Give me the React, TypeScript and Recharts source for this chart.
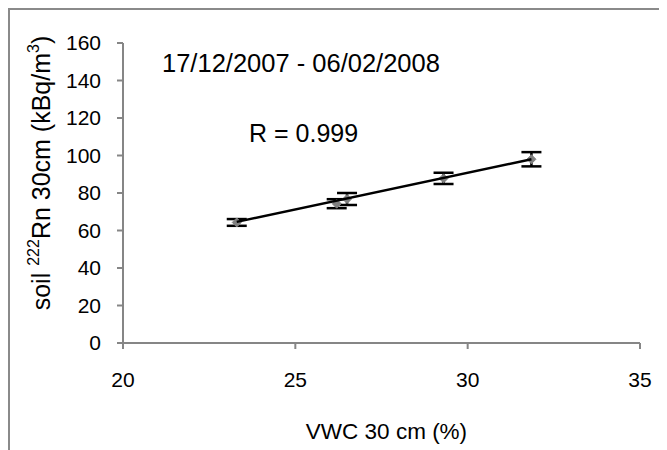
import React from 'react';
import { ScatterChart, Scatter, XAxis, YAxis, ErrorBar, Label } from 'recharts';

const vwc = [23.3, 26.2, 26.5, 29.3, 31.85];
const radon = [64.3, 74.3, 76.8, 87.8, 98.0];
const radonErr = [1.8, 2.4, 3.2, 3.0, 3.8];
const trendX = [23.3, 31.85];
const trendY = [64.6, 98.0];
const xTicks = [20, 25, 30, 35];
const yTicks = [0, 20, 40, 60, 80, 100, 120, 140, 160];
const periodText = '17/12/2007 - 06/02/2008';
const rText = 'R = 0.999';

const points = vwc.map((x, i) => ({ x, y: radon[i], err: radonErr[i] }));
const trend = trendX.map((x, i) => ({ x, y: trendY[i] }));

const FONT = '"Liberation Sans", Arial, sans-serif';
const AXIS = '#868686';

const Diamond = (props: any) => {
  const { cx, cy } = props;
  if (cx == null || cy == null) return null;
  const r = 4.5;
  return (
    <polygon
      points={`${cx},${cy - r} ${cx + r},${cy} ${cx},${cy + r} ${cx - r},${cy}`}
      fill="#808080"
      stroke="#808080"
    />
  );
};

const NoShape = () => null;

const YTitle = (props: any) => {
  const vb = props.viewBox || {};
  const x = (vb.x ?? 0) - 22;
  const y = (vb.y ?? 0) + (vb.height ?? 0) / 2 - 20;
  return (
    <text
      x={x}
      y={y}
      transform={`rotate(-90, ${x}, ${y})`}
      textAnchor="middle"
      dominantBaseline="central"
      fontFamily={FONT}
      fontSize={25}
      fill="#000"
    >
      <tspan>soil </tspan>
      <tspan dy={-8} fontSize={16}>222</tspan>
      <tspan dy={8}>Rn 30cm (kBq/m</tspan>
      <tspan dy={-8} fontSize={16}>3</tspan>
      <tspan dy={8}>)</tspan>
    </text>
  );
};

const XTitle = (props: any) => {
  const vb = props.viewBox || {};
  const x = (vb.x ?? 0) + (vb.width ?? 0) / 2 + 5;
  const y = (vb.y ?? 0) + 88;
  return (
    <text x={x} y={y} textAnchor="middle" dominantBaseline="central" fontFamily={FONT} fontSize={22.5} fill="#000">
      VWC 30 cm (%)
    </text>
  );
};

export default function App() {
  return (
    <div
      style={{
        width: 659,
        height: 442,
        overflow: 'hidden',
        boxSizing: 'border-box',
        borderTop: '2px solid #8a8a8a',
        borderLeft: '2px solid #8a8a8a',
        background: '#fff',
      }}
    >
      <ScatterChart width={657} height={440} margin={{ top: 33, right: 27, bottom: 57, left: 53 }}>
        <XAxis
          type="number"
          dataKey="x"
          domain={[20, 35]}
          ticks={xTicks}
          height={50}
          axisLine={{ stroke: AXIS, strokeWidth: 2 }}
          tickLine={{ stroke: AXIS, strokeWidth: 2 }}
          tickSize={6}
          tickMargin={23}
          tick={{ fill: '#000', fontSize: 21, fontFamily: FONT }}
          allowDataOverflow
        >
          <Label content={<XTitle />} />
        </XAxis>
        <YAxis
          type="number"
          dataKey="y"
          domain={[0, 160]}
          ticks={yTicks}
          width={60}
          axisLine={{ stroke: AXIS, strokeWidth: 2 }}
          tickLine={{ stroke: AXIS, strokeWidth: 2 }}
          tickSize={6}
          tickMargin={16}
          tick={{ fill: '#000', fontSize: 21, fontFamily: FONT }}
          allowDataOverflow
        >
          <Label content={<YTitle />} />
        </YAxis>
        <Scatter data={points} shape={<Diamond />} isAnimationActive={false}>
          <ErrorBar dataKey="err" direction="y" width={10} stroke="#000" strokeWidth={2.5} />
        </Scatter>
        <Scatter
          data={trend}
          shape={<NoShape />}
          line={{ stroke: '#000', strokeWidth: 2.5 }}
          isAnimationActive={false}
        />
        <text x={152} y={53} dominantBaseline="central" fontFamily={FONT} fontSize={25.5} fill="#000">
          {periodText}
        </text>
        <text x={239} y={123} dominantBaseline="central" fontFamily={FONT} fontSize={25} fill="#000">
          {rText}
        </text>
      </ScatterChart>
    </div>
  );
}
